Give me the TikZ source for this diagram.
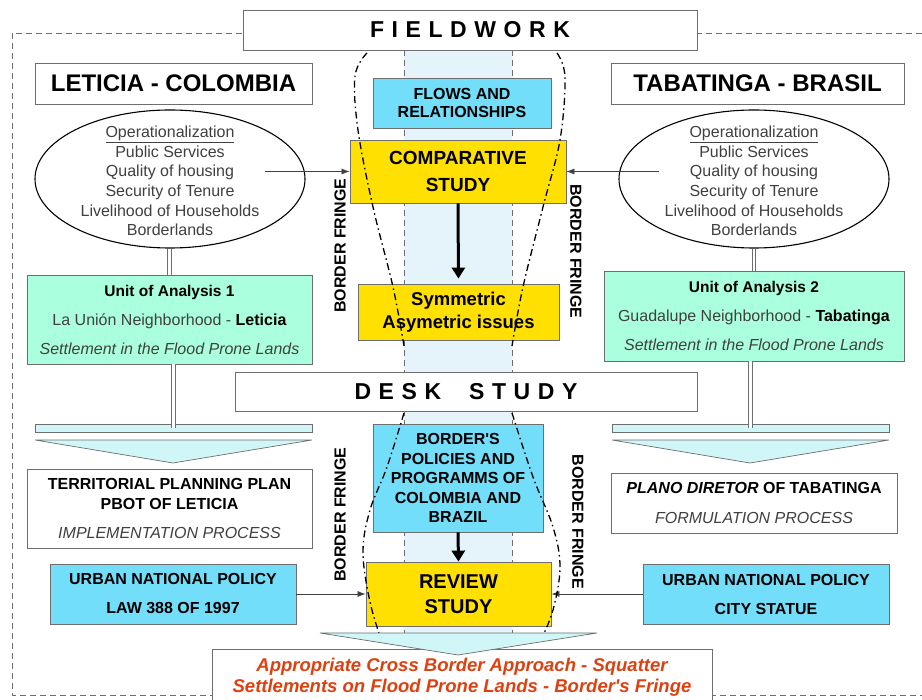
\documentclass[tikz,border=0pt]{standalone}
\usepackage{fontspec}
\setmainfont{Liberation Sans}
\newfontfamily\plainquote{Liberation Sans}
\newcommand{\apos}{{\plainquote\char39}}
\usetikzlibrary{shapes.geometric,arrows.meta}

\definecolor{skybox}{RGB}{115,222,250}
\definecolor{studyyellow}{RGB}{255,224,0}
\definecolor{unitmint}{RGB}{170,255,222}
\definecolor{chevcyan}{RGB}{208,246,248}
\definecolor{bandblue}{RGB}{228,244,250}
\definecolor{outcomered}{RGB}{222,64,16}
\definecolor{softtext}{RGB}{64,64,64}
\definecolor{boxline}{RGB}{110,110,110}

\tikzset{
  plainbox/.style={draw=boxline, fill=white, inner sep=0pt, align=center, line width=0.8pt},
  headbox/.style={plainbox, font=\fontsize{24}{28}\selectfont\bfseries},
  spacedbox/.style={plainbox, font=\fontsize{23}{26}\selectfont\bfseries\addfontfeature{LetterSpace=33}},
  bluebox/.style={plainbox, fill=skybox, font=\fontsize{16}{19.5}\selectfont\bfseries},
  yellowbox/.style={plainbox, fill=studyyellow},
  mintbox/.style={plainbox, fill=unitmint, font=\fontsize{16}{29}\selectfont},
  oval/.style={ellipse, draw=black, line width=1.1pt, fill=white, inner sep=0pt},
  ovaltext/.style={align=center, text=softtext, font=\fontsize{16}{19.6}\selectfont},
  fringe/.style={font=\fontsize{16}{18}\selectfont\bfseries},
  thinarrow/.style={-{Latex[length=8pt,width=6pt]}, draw=softtext, line width=0.7pt},
  thickarrow/.style={-{Triangle[length=11pt,width=13pt]}, line width=3pt},
  twinline/.style={draw=boxline, double=white, double distance=2.6pt, line width=0.9pt},
  fringeline/.style={line width=1.3pt, dash pattern=on 7pt off 3.5pt on 1.5pt off 3.5pt},
  chevron/.style={draw=boxline, fill=chevcyan, line width=0.7pt}
}

\begin{document}
\begin{tikzpicture}[x=1pt, y=-1pt]

\pgfmathsetmacro{\bandleft}{404}
\pgfmathsetmacro{\bandright}{512}

\useasboundingbox (0,0) rectangle (922,700);

% Outer dashed frame:
\draw[boxline, line width=0.8pt, dash pattern=on 6pt off 4pt] (12,33) rectangle (940,695);

% Central band:
\fill[bandblue] (\bandleft,50) rectangle (\bandright,633);
\draw[boxline, dash pattern=on 6pt off 4pt] (\bandleft,50) -- (\bandleft,633);
\draw[boxline, dash pattern=on 6pt off 4pt] (\bandright,50) -- (\bandright,633);

% Headers:
\node[spacedbox, minimum width=454pt, minimum height=40pt] (field) at (470,30) {FIELDWORK};
\node[spacedbox, minimum width=462pt, minimum height=39pt] (desk) at (466,391.5) {DESK\hspace{28pt}STUDY};
\node[headbox, minimum width=277pt, minimum height=41pt] (lhead) at (173.5,83.5) {LETICIA - COLOMBIA};
\node[headbox, minimum width=293pt, minimum height=41pt] (rhead) at (757.5,83.5) {TABATINGA - BRASIL};

% Operationalization ellipses:
\node[oval, minimum width=270pt, minimum height=138pt] (lell) at (170,179) {};
\node[ovaltext] (lelltext) at (170,181) {\underline{Operationalization}\\Public Services\\Quality of housing\\Security of Tenure\\Livelihood of Households\\Borderlands};
\node[oval, minimum width=270pt, minimum height=138pt] (rell) at (754,179) {};
\node[ovaltext] (relltext) at (754,181) {\underline{Operationalization}\\Public Services\\Quality of housing\\Security of Tenure\\Livelihood of Households\\Borderlands};

% Centre column:
\node[bluebox, minimum width=178pt, minimum height=50pt, font=\fontsize{16}{18}\selectfont\bfseries] (flows) at (462,103) {FLOWS AND\\RELATIONSHIPS};
\node[yellowbox, minimum width=216pt, minimum height=63pt, font=\fontsize{19}{27}\selectfont\bfseries] (comp) at (458,171.5) {COMPARATIVE\\STUDY};
\node[yellowbox, minimum width=201pt, minimum height=56pt, font=\fontsize{18.5}{23}\selectfont\bfseries] (sym) at (458.5,312) {Symmetric\\Asymetric issues};
\node[bluebox, minimum width=170pt, minimum height=108pt] (bpol) at (458,478) {BORDER\apos S\\POLICIES AND\\PROGRAMMS OF\\COLOMBIA AND\\BRAZIL};
\node[yellowbox, minimum width=185pt, minimum height=64pt, font=\fontsize{20}{25}\selectfont\bfseries] (review) at (458.5,594) {REVIEW\\STUDY};

% Units of analysis:
\node[mintbox, minimum width=285pt, minimum height=89pt] (unit1) at (169.5,319.5) {{\bfseries\fontsize{15.5}{29}\selectfont Unit of Analysis 1}\\\textcolor{softtext}{La Unión Neighborhood -} \textbf{Leticia}\\\textcolor{softtext}{\itshape Settlement in the Flood Prone Lands}};
\node[mintbox, minimum width=300pt, minimum height=90pt] (unit2) at (754,316) {{\bfseries\fontsize{15.5}{29}\selectfont Unit of Analysis 2}\\\textcolor{softtext}{Guadalupe Neighborhood -} \textbf{Tabatinga}\\\textcolor{softtext}{\itshape Settlement in the Flood Prone Lands}};

% Bars and chevrons:
\node[chevron, minimum width=277pt, minimum height=8pt, inner sep=0pt] (lbar) at (173.5,428) {};
\node[chevron, minimum width=277pt, minimum height=8pt, inner sep=0pt] (rbar) at (750.5,428) {};
\draw[chevron] (35,440) -- (312,440) -- (173,463) -- cycle;
\draw[chevron] (612,440) -- (889,440) -- (750,463) -- cycle;

% Plans:
\node[plainbox, minimum width=285pt, minimum height=79pt, font=\fontsize{16}{20}\selectfont] (terr) at (169.5,508.5) {\bfseries TERRITORIAL PLANNING PLAN\\\bfseries PBOT OF LETICIA\\[9pt]\textcolor{softtext}{\itshape IMPLEMENTATION PROCESS}};
\node[plainbox, minimum width=286pt, minimum height=60pt, font=\fontsize{16}{30}\selectfont] (plano) at (754,503) {\textbf{\itshape PLANO DIRETOR} \textbf{OF TABATINGA}\\\textcolor{softtext}{\itshape FORMULATION PROCESS}};

% Urban national policies:
\node[bluebox, minimum width=246pt, minimum height=60pt, font=\fontsize{16}{29}\selectfont\bfseries] (lpol) at (173,594) {URBAN NATIONAL POLICY\\LAW 388 OF 1997};
\node[bluebox, minimum width=246pt, minimum height=60pt, font=\fontsize{16}{29}\selectfont\bfseries] (rpol) at (766,594) {URBAN NATIONAL POLICY\\CITY STATUE};

% Border fringe labels:
\node[fringe, rotate=90] (fringeA) at (340,245.5) {BORDER FRINGE};
\node[fringe, rotate=-90] (fringeB) at (576,251.5) {BORDER FRINGE};
\node[fringe, rotate=90] (fringeC) at (340,514.5) {BORDER FRINGE};
\node[fringe, rotate=-90] (fringeD) at (578,522) {BORDER FRINGE};

% Connectors:
\coordinate (lq) at (265,171.5);
\coordinate (rq) at (659,171.5);
\draw[thinarrow] (lq) -- (comp.west);
\draw[thinarrow] (rq) -- (comp.east);
\draw[thinarrow] (lpol.east) -- (review.west);
\draw[thinarrow] (rpol.west) -- (review.east);
\draw[thickarrow, shorten >=5pt] (comp.south) -- (sym.north);
\draw[thickarrow] (bpol.south) -- (review.north);
\draw[twinline] (lell.south -| unit1.north) -- (unit1.north);
\draw[twinline] (unit1.south -| lbar.north) -- (lbar.center);
\draw[twinline] (rell.south) -- (rell.south |- unit2.north);
\draw[twinline] (rbar.center |- unit2.south) -- (rbar.center);

% Dash-dotted fringe lines:
\draw[fringeline] plot[smooth, tension=0.6] coordinates {(367,53) (355,76) (358,130) (373,207) (393,287) (404,346)};
\draw[fringeline] plot[smooth, tension=0.6] coordinates {(557,53) (565,77) (560,140) (543,207) (523,287) (512,346)};
\draw[fringeline] plot[smooth, tension=0.6] coordinates {(404,413) (387,467) (370,510) (363,552) (370,602) (382,642)};
\draw[fringeline] plot[smooth, tension=0.6] coordinates {(512,413) (533,477) (553,527) (560,567) (553,610) (540,642)};

% Outcome:
\node[plainbox, minimum width=500pt, minimum height=70pt, anchor=north] (final) at (462,649) {};
\draw[chevron] (320,633) -- (597,633) -- (458,655) -- cycle;
\node[align=center, text=outcomered, font=\fontsize{18.5}{20.5}\selectfont\bfseries\itshape] (outcome) at (462,677) {Appropriate Cross Border Approach - Squatter\\Settlements on Flood Prone Lands - Border\apos s Fringe};

\end{tikzpicture}
\end{document}
